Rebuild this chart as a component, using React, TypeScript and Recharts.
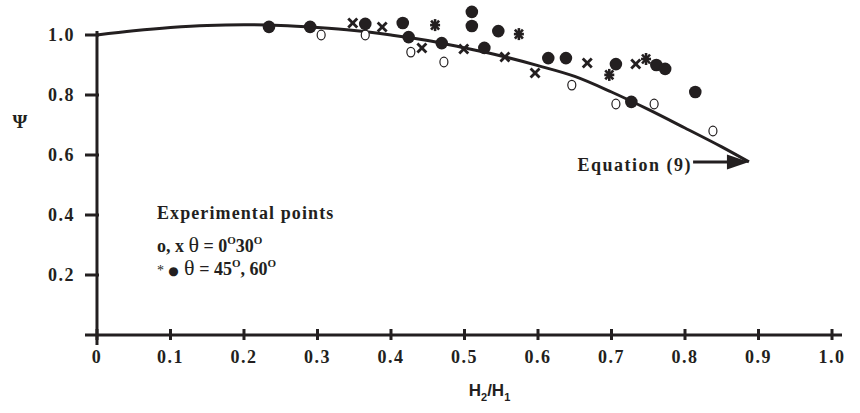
import {
  ComposedChart,
  Label,
  Line,
  ReferenceDot,
  ReferenceLine,
  Scatter,
  XAxis,
  YAxis,
} from "recharts";

const INK = "#231f20";
const SERIF = "'Liberation Serif', 'Times New Roman', serif";

// Equation (9) curve
const curveRatio = [0, 0.05, 0.1, 0.15, 0.2, 0.25, 0.3, 0.35, 0.4, 0.45, 0.5, 0.55, 0.6, 0.65, 0.7, 0.75, 0.8, 0.85, 0.887];
const curvePsi = [1.0, 1.014, 1.025, 1.032, 1.034, 1.032, 1.025, 1.015, 1.0, 0.982, 0.957, 0.93, 0.898, 0.862, 0.81, 0.752, 0.69, 0.627, 0.577];

// theta = 0 (open circles)
const openRatio = [0.305, 0.365, 0.427, 0.472, 0.646, 0.706, 0.758, 0.838];
const openPsi = [1.0, 1.0, 0.943, 0.91, 0.833, 0.77, 0.77, 0.68];

// theta = 30 (x)
const crossRatio = [0.348, 0.388, 0.442, 0.499, 0.555, 0.596, 0.667, 0.733];
const crossPsi = [1.04, 1.027, 0.957, 0.953, 0.927, 0.873, 0.907, 0.903];

// theta = 45 (*)
const starRatio = [0.46, 0.574, 0.697, 0.747];
const starPsi = [1.033, 1.003, 0.867, 0.92];

// theta = 60 (filled)
const filledRatio = [0.234, 0.29, 0.365, 0.416, 0.424, 0.469, 0.51, 0.51, 0.527, 0.546, 0.614, 0.638, 0.706, 0.727, 0.761, 0.773, 0.814];
const filledPsi = [1.027, 1.027, 1.037, 1.04, 0.993, 0.973, 1.077, 1.03, 0.957, 1.013, 0.923, 0.923, 0.903, 0.777, 0.9, 0.887, 0.81];

const xTicks = [0, 0.1, 0.2, 0.3, 0.4, 0.5, 0.6, 0.7, 0.8, 0.9, 1.0];
const xTickLabels = ["0", "0.1", "0.2", "0.3", "0.4", "0.5", "0.6", "0.7", "0.8", "0.9", "1.0"];
const yTicks = [0.2, 0.4, 0.6, 0.8, 1.0];
const yTickLabels = ["0.2", "0.4", "0.6", "0.8", "1.0"];

const arrowStart = 0.811;
const arrowEnd = 0.887;
const arrowPsi = 0.577;

const zip = (xs: number[], ys: number[]) => xs.map((x, i) => ({ x, psi: ys[i] }));

const curveData = zip(curveRatio, curvePsi);
const openData = zip(openRatio, openPsi);
const crossData = zip(crossRatio, crossPsi);
const starData = zip(starRatio, starPsi);
const filledData = zip(filledRatio, filledPsi);

const textBase = { fontFamily: SERIF, fill: INK };

function XTick({ x, y, index }: any) {
  return (
    <g>
      <line x1={x} x2={x} y1={y - 6} y2={y + 5} stroke={INK} strokeWidth={3} />
      <text x={x} y={y + 28} textAnchor="middle" fontSize={18} fontWeight="bold" letterSpacing={1.5} {...textBase}>
        {xTickLabels[index]}
      </text>
    </g>
  );
}

function YTick({ x, y, index }: any) {
  return (
    <g>
      <line x1={x} x2={x + 14} y1={y} y2={y} stroke={INK} strokeWidth={3} />
      <text x={x - 10} y={y + 6} textAnchor="end" fontSize={18} fontWeight="bold" letterSpacing={1.5} {...textBase}>
        {yTickLabels[index]}
      </text>
    </g>
  );
}

const OpenDot = ({ cx, cy }: any) => (
  <ellipse cx={cx} cy={cy} rx={4} ry={4.8} fill="#fff" stroke={INK} strokeWidth={1.2} />
);

const CrossMark = ({ cx, cy }: any) => (
  <g stroke={INK} strokeWidth={2.8}>
    <line x1={cx - 4.5} y1={cy - 4.5} x2={cx + 4.5} y2={cy + 4.5} />
    <line x1={cx - 4.5} y1={cy + 4.5} x2={cx + 4.5} y2={cy - 4.5} />
  </g>
);

const StarMark = ({ cx, cy }: any) => (
  <g stroke={INK} strokeWidth={2.6}>
    <line x1={cx - 5} y1={cy} x2={cx + 5} y2={cy} />
    <line x1={cx} y1={cy - 6} x2={cx} y2={cy + 6} />
    <line x1={cx - 4} y1={cy - 4.5} x2={cx + 4} y2={cy + 4.5} />
    <line x1={cx - 4} y1={cy + 4.5} x2={cx + 4} y2={cy - 4.5} />
  </g>
);

const FilledDot = ({ cx, cy }: any) => <circle cx={cx} cy={cy} r={6.3} fill={INK} />;

const ArrowHead = ({ cx, cy }: any) => (
  <polygon points={`${cx},${cy} ${cx - 22},${cy - 7.5} ${cx - 22},${cy + 7.5}`} fill={INK} />
);

const EquationText = ({ cx, cy }: any) => (
  <text x={cx - 1} y={cy + 9} textAnchor="end" fontSize={18} fontWeight="bold" letterSpacing={1.5} {...textBase}>
    Equation (9)
  </text>
);

const sup = (s: string) => (
  <tspan dy={-8} fontSize={11}>
    {s}
  </tspan>
);

const LegendBlock = ({ cx, cy }: any) => (
  <g>
    <text x={cx} y={cy} fontSize={18} fontWeight="bold" letterSpacing={1.1} {...textBase}>
      Experimental points
    </text>
    <text x={cx} y={cy + 33} fontSize={18} fontWeight="bold" {...textBase}>
      <tspan>o, x </tspan>
      <tspan fontWeight="normal" fontSize={22}>θ</tspan>
      <tspan> = 0</tspan>
      {sup("O")}
      <tspan dy={8}>30</tspan>
      {sup("O")}
    </text>
    <text x={cx} y={cy + 56} fontSize={18} fontWeight="bold" {...textBase}>
      <tspan fontWeight="normal" fontSize={14}>*</tspan>
      <tspan fontFamily="'DejaVu Sans', sans-serif" fontSize={12}> ●</tspan>
      <tspan fontWeight="normal" fontSize={22}> θ</tspan>
      <tspan> = 45</tspan>
      {sup("O")}
      <tspan dy={8}>, 60</tspan>
      {sup("O")}
    </text>
  </g>
);

const XTitle = ({ viewBox }: any) => {
  const cx = viewBox.x + viewBox.width / 2 + 26;
  return (
    <text x={cx} y={viewBox.y + 61} textAnchor="middle" fontFamily="'Liberation Sans Narrow', 'Liberation Sans', Arial, sans-serif" fontWeight="bold" fontSize={17} fill={INK}>
      H<tspan dy={5} fontSize={11}>2</tspan>
      <tspan dy={-5}>/H</tspan>
      <tspan dy={5} fontSize={11}>1</tspan>
    </text>
  );
};

const YTitle = ({ viewBox }: any) => (
  <text x={viewBox.x + 20} y={viewBox.y + 123} textAnchor="middle" fontSize={19} fontWeight="bold" {...textBase}>
    Ψ
  </text>
);

export default function App() {
  return (
    <div style={{ position: "absolute", left: 0, top: 0, width: 860, height: 413, background: "#fff" }}>
      <ComposedChart width={860} height={413} margin={{ top: 5, right: 18, bottom: 38, left: 0 }}>
        <XAxis
          type="number"
          dataKey="x"
          domain={[-0.0163, 1.0136]}
          allowDataOverflow
          ticks={xTicks}
          interval={0}
          tickSize={0}
          tickMargin={0}
          tickLine={false}
          tick={<XTick />}
          axisLine={{ stroke: INK, strokeWidth: 3 }}
          height={40}
        >
          <Label content={<XTitle />} />
        </XAxis>
        <YAxis
          type="number"
          dataKey="psi"
          domain={[0, 1.1]}
          allowDataOverflow
          ticks={yTicks}
          interval={0}
          tickSize={0}
          tickMargin={0}
          tickLine={false}
          axisLine={false}
          tick={<YTick />}
          width={85}
        >
          <Label content={<YTitle />} />
        </YAxis>
        <ReferenceLine
          segment={[{ x: 0, y: -0.033 }, { x: 0, y: 1.013 }]}
          stroke={INK}
          strokeWidth={3}
          ifOverflow="visible"
        />
        <Line
          data={curveData}
          dataKey="psi"
          type="monotone"
          stroke={INK}
          strokeWidth={3}
          dot={false}
          activeDot={false}
          isAnimationActive={false}
        />
        <Scatter data={openData} dataKey="psi" shape={<OpenDot />} isAnimationActive={false} />
        <Scatter data={crossData} dataKey="psi" shape={<CrossMark />} isAnimationActive={false} />
        <Scatter data={starData} dataKey="psi" shape={<StarMark />} isAnimationActive={false} />
        <Scatter data={filledData} dataKey="psi" shape={<FilledDot />} isAnimationActive={false} />
        <ReferenceLine
          segment={[{ x: arrowStart, y: arrowPsi }, { x: arrowEnd - 0.02, y: arrowPsi }]}
          stroke={INK}
          strokeWidth={3}
        />
        <ReferenceDot x={arrowEnd} y={arrowPsi} shape={<ArrowHead />} />
        <ReferenceDot x={arrowStart} y={arrowPsi} shape={<EquationText />} />
        <ReferenceDot x={0.0816} y={0.387} shape={<LegendBlock />} />
      </ComposedChart>
    </div>
  );
}
